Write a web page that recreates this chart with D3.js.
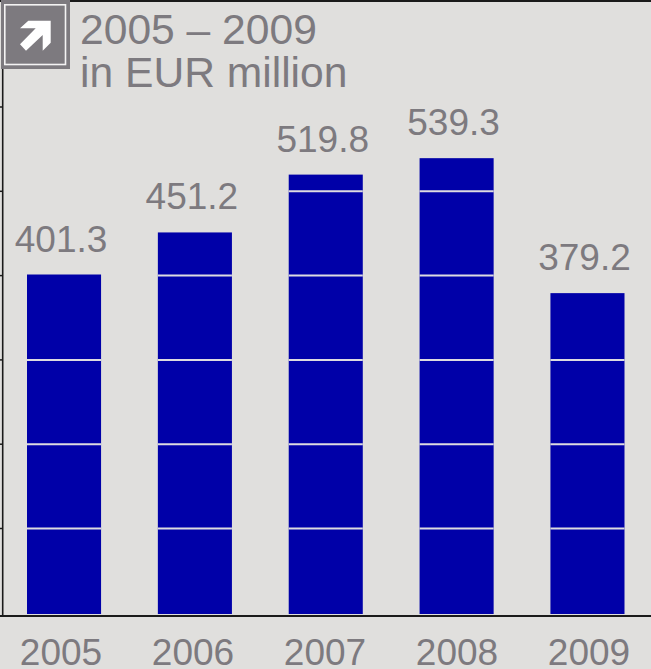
<!DOCTYPE html>
<html>
<head>
<meta charset="utf-8">
<script src="https://cdn.jsdelivr.net/npm/d3@7/dist/d3.min.js"></script>
<style>
html,body{margin:0;padding:0;background:#e0dfdd;overflow:hidden}
svg{display:block}
text{font-family:"Liberation Sans",Arial,sans-serif;fill:#7d7a7f}
</style>
</head>
<body>
<svg id="chart" width="651" height="669"></svg>
<script>
// Annual figures in EUR million
const years = ["2005", "2006", "2007", "2008", "2009"];
const amounts = [401.3, 451.2, 519.8, 539.3, 379.2];
const gridValues = [100, 200, 300, 400, 500, 600];
const titleLines = ["2005 \u2013 2009", "in EUR million"];

const blue = "#0000a8", grey = "#7d7a7f", ink = "#1a1a1a";
const svg = d3.select("#chart");

const x = d3.scaleBand().domain(years).range([27, 624.5]).paddingInner(0.434).paddingOuter(0);
const xYear = d3.scalePoint().domain(years).range([61, 589]);
const y = d3.scaleLinear().domain([0, 100]).range([612.8, 528.5]);
const barFoot = 614;

// Frame: top rule and left axis
svg.append("line").attr("x1", 0).attr("x2", 651).attr("y1", 1).attr("y2", 1)
  .attr("stroke", ink).attr("stroke-width", 2);
svg.append("line").attr("x1", 2.7).attr("x2", 2.7).attr("y1", 0).attr("y2", 616)
  .attr("stroke", ink).attr("stroke-width", 1.6);

// Bars, each cut by the gridlines that pass clearly below its top
const bars = svg.append("g").selectAll("g").data(years).join("g");
bars.append("rect")
  .attr("x", d => x(d))
  .attr("width", x.bandwidth())
  .attr("y", (d, i) => y(amounts[i]))
  .attr("height", (d, i) => barFoot - y(amounts[i]))
  .attr("fill", blue);
bars.selectAll("line")
  .data((d, i) => gridValues.filter(v => v < amounts[i] - 3).map(v => ({year: d, v})))
  .join("line")
  .attr("x1", c => x(c.year))
  .attr("x2", c => x(c.year) + x.bandwidth())
  .attr("y1", c => y(c.v))
  .attr("y2", c => y(c.v))
  .attr("stroke", "#dddbe0")
  .attr("stroke-width", 2);

// Short ticks on the left axis
svg.append("g").selectAll("line").data(gridValues).join("line")
  .attr("x1", 0).attr("x2", 3)
  .attr("y1", d => y(d)).attr("y2", d => y(d))
  .attr("stroke", ink).attr("stroke-width", 1.5);

// Baseline
svg.append("line").attr("x1", 0).attr("x2", 651).attr("y1", 616).attr("y2", 616)
  .attr("stroke", ink).attr("stroke-width", 2);

// Value labels
svg.append("g").selectAll("text").data(years).join("text")
  .attr("x", d => x(d) + x.bandwidth() / 2 - 3)
  .attr("y", (d, i) => y(amounts[i]) - 23)
  .attr("text-anchor", "middle")
  .attr("font-size", 37)
  .text((d, i) => amounts[i].toFixed(1));

// Year labels
svg.append("g").selectAll("text").data(years).join("text")
  .attr("x", d => xYear(d))
  .attr("y", 665)
  .attr("text-anchor", "middle")
  .attr("font-size", 37)
  .text(d => d);

// Title
svg.append("g").selectAll("text").data(titleLines).join("text")
  .attr("x", 80)
  .attr("y", (d, i) => 43.5 + i * 43)
  .attr("font-size", 42.6)
  .text(d => d);

// Arrow badge
const badge = svg.append("g");
badge.append("rect").attr("x", 1).attr("y", 0).attr("width", 69).attr("height", 69).attr("fill", grey);
badge.append("rect").attr("x", 4.8).attr("y", 4.8).attr("width", 60.7).attr("height", 59.7)
  .attr("fill", "none").attr("stroke", "#f4f3f3").attr("stroke-width", 1.6);
badge.append("path")
  .attr("d", "M20 28.3L28.3 20.7L50.7 20.7L50.7 42.7L42.7 50.7L42.7 35L26 50.7L20 44.3L35.7 28.3Z")
  .attr("fill", "#ffffff");
</script>
</body>
</html>
